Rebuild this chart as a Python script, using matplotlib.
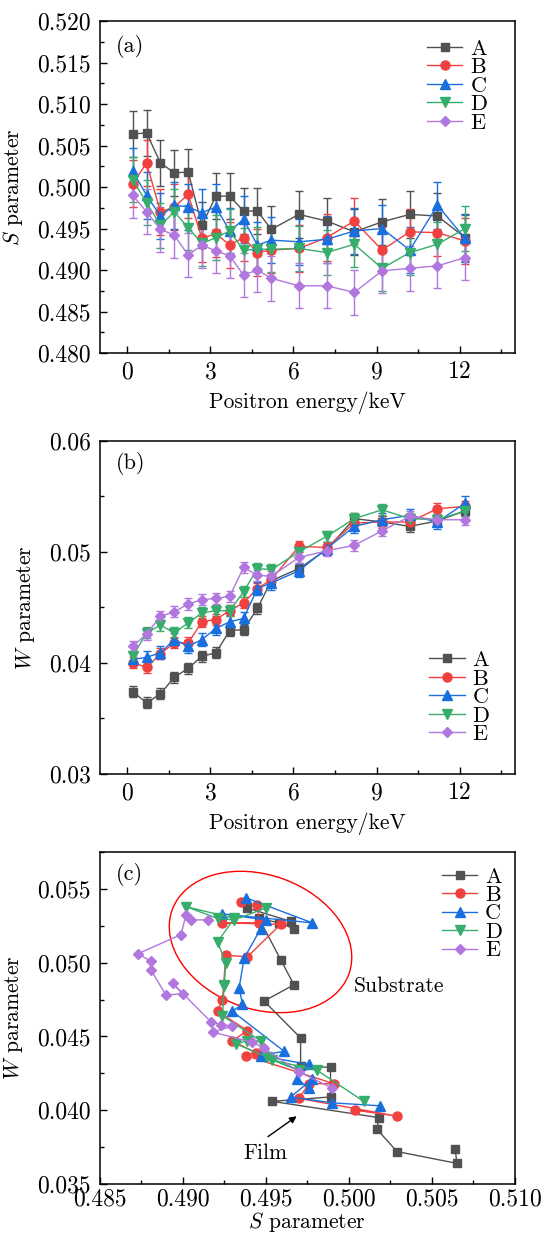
import matplotlib
matplotlib.use('Agg')
import matplotlib.pyplot as plt
from matplotlib.ticker import MultipleLocator, FormatStrFormatter
from matplotlib.patches import Ellipse
from matplotlib.transforms import Affine2D

plt.rcParams['font.family'] = 'serif'
plt.rcParams['font.serif'] = ['cmr10']
plt.rcParams['mathtext.fontset'] = 'cm'
plt.rcParams['axes.formatter.use_mathtext'] = True

# data
energy = [0.2, 0.7, 1.2, 1.7, 2.2, 2.7, 3.2, 3.7, 4.2, 4.7, 5.2, 6.2, 7.2, 8.2, 9.2, 10.2, 11.2, 12.2]
labels = ['A', 'B', 'C', 'D', 'E']

s_A = [0.5064, 0.5065, 0.5029, 0.5017, 0.5018, 0.4954, 0.4989, 0.4989, 0.4971, 0.4971, 0.4949, 0.4967, 0.4959, 0.4946, 0.4958, 0.4967, 0.4965, 0.4939]
s_B = [0.5004, 0.5029, 0.4970, 0.4976, 0.4991, 0.4938, 0.4944, 0.4930, 0.4939, 0.4921, 0.4924, 0.4926, 0.4939, 0.4959, 0.4924, 0.4946, 0.4945, 0.4935]
s_C = [0.5019, 0.4990, 0.4965, 0.4978, 0.4976, 0.4969, 0.4976, 0.4947, 0.4961, 0.4930, 0.4936, 0.4934, 0.4937, 0.4947, 0.4950, 0.4924, 0.4978, 0.4938]
s_D = [0.5009, 0.4981, 0.4954, 0.4970, 0.4951, 0.4932, 0.4939, 0.4947, 0.4924, 0.4925, 0.4925, 0.4926, 0.4921, 0.4931, 0.4902, 0.4921, 0.4931, 0.4950]
s_E = [0.4990, 0.4970, 0.4949, 0.4942, 0.4918, 0.4930, 0.4923, 0.4917, 0.4894, 0.4900, 0.4890, 0.4881, 0.4881, 0.4873, 0.4899, 0.4902, 0.4905, 0.4915]

w_A = [0.0374, 0.0364, 0.0372, 0.0387, 0.0395, 0.0406, 0.0409, 0.0429, 0.0430, 0.0449, 0.0474, 0.0485, 0.0502, 0.0530, 0.0527, 0.0523, 0.0528, 0.0537]
w_B = [0.0400, 0.0396, 0.0408, 0.0418, 0.0418, 0.0437, 0.0439, 0.0447, 0.0454, 0.0467, 0.0475, 0.0505, 0.0504, 0.0526, 0.0527, 0.0527, 0.0539, 0.0541]
w_C = [0.0403, 0.0405, 0.0409, 0.0421, 0.0415, 0.0421, 0.0431, 0.0437, 0.0440, 0.0467, 0.0472, 0.0483, 0.0503, 0.0523, 0.0529, 0.0533, 0.0527, 0.0544]
w_D = [0.0406, 0.0427, 0.0434, 0.0427, 0.0436, 0.0445, 0.0447, 0.0447, 0.0464, 0.0485, 0.0484, 0.0500, 0.0514, 0.0530, 0.0538, 0.0530, 0.0529, 0.0537]
w_E = [0.0415, 0.0426, 0.0442, 0.0446, 0.0453, 0.0457, 0.0458, 0.0460, 0.0486, 0.0479, 0.0478, 0.0495, 0.0501, 0.0506, 0.0519, 0.0532, 0.0529, 0.0529]

# error bar half-widths, one per sample
s_err = [0.0028, 0.0028, 0.0028, 0.0027, 0.0027]
w_err = [0.0005, 0.0005, 0.0006, 0.0005, 0.0005]

s_all = [s_A, s_B, s_C, s_D, s_E]
w_all = [w_A, w_B, w_C, w_D, w_E]

colors = ['#515151', '#F14040', '#1A6FDF', '#37AD6B', '#B177DE']
markers = ['s', 'o', '^', 'v', 'D']
msizes = [6, 6.5, 7, 7, 5.5]

TICK_FS = 17
LABEL_FS = 15.5
LEG_FS = 16


def style_axes(ax):
    ax.tick_params(which='both', direction='in', top=False, right=False,
                   labelsize=TICK_FS, pad=6)
    ax.tick_params(which='major', length=5, width=1)
    ax.tick_params(which='minor', length=3, width=1)
    for sp in ax.spines.values():
        sp.set_linewidth(1.1)


def add_legend(ax, handles, x, y):
    ax.legend(handles=handles, labels=labels, loc='upper left', bbox_to_anchor=(x, y),
              frameon=False, fontsize=LEG_FS, handlelength=1.6, handletextpad=0.35,
              labelspacing=-0.05, borderpad=0, borderaxespad=0, numpoints=1)


fig = plt.figure(figsize=(5.42, 12.36), dpi=100)
ax1 = fig.add_axes([0.1836, 0.7144, 0.7666, 0.2686])
ax2 = fig.add_axes([0.1836, 0.3740, 0.7666, 0.2692])
ax3 = fig.add_axes([0.1836, 0.04207, 0.7666, 0.2686])

# (a) S parameter vs energy
h1 = []
for s, e, c, m, ms in zip(s_all, s_err, colors, markers, msizes):
    cont = ax1.errorbar(energy, s, yerr=e, color=c, marker=m, markersize=ms, lw=1.0,
                        elinewidth=1.0, capsize=3, capthick=1.0)
    h1.append(cont[0])
ax1.set_xlim(-1, 14)
ax1.set_ylim(0.480, 0.520)
ax1.xaxis.set_major_locator(MultipleLocator(3))
ax1.xaxis.set_minor_locator(MultipleLocator(1.5))
ax1.yaxis.set_major_locator(MultipleLocator(0.005))
ax1.yaxis.set_minor_locator(MultipleLocator(0.0025))
ax1.yaxis.set_major_formatter(FormatStrFormatter('%.3f'))
ax1.set_xlabel('Positron energy/keV', fontsize=LABEL_FS, labelpad=6)
ax1.set_ylabel(r'$S$ parameter', fontsize=LABEL_FS, labelpad=9)
ax1.text(0.04, 0.922, '(a)', transform=ax1.transAxes, fontsize=LEG_FS, va='center')
style_axes(ax1)
add_legend(ax1, h1, 0.788, 0.945)

# (b) W parameter vs energy
h2 = []
for w, e, c, m, ms in zip(w_all, w_err, colors, markers, msizes):
    cont = ax2.errorbar(energy, w, yerr=e, color=c, marker=m, markersize=ms, lw=1.0,
                        elinewidth=1.0, capsize=3, capthick=1.0)
    h2.append(cont[0])
ax2.set_xlim(-1, 14)
ax2.set_ylim(0.03, 0.06)
ax2.xaxis.set_major_locator(MultipleLocator(3))
ax2.xaxis.set_minor_locator(MultipleLocator(1.5))
ax2.yaxis.set_major_locator(MultipleLocator(0.01))
ax2.yaxis.set_minor_locator(MultipleLocator(0.005))
ax2.yaxis.set_major_formatter(FormatStrFormatter('%.2f'))
ax2.set_xlabel('Positron energy/keV', fontsize=LABEL_FS, labelpad=6)
ax2.set_ylabel(r'$W$ parameter', fontsize=LABEL_FS, labelpad=9)
ax2.text(0.04, 0.933, '(b)', transform=ax2.transAxes, fontsize=LEG_FS, va='center')
style_axes(ax2)
add_legend(ax2, h2, 0.7936, 0.37)

# (c) W vs S
h3 = []
for s, w, c, m, ms in zip(s_all, w_all, colors, markers, msizes):
    line, = ax3.plot(s, w, color=c, marker=m, markersize=ms, lw=1.0)
    h3.append(line)
ax3.set_xlim(0.485, 0.510)
ax3.set_ylim(0.035, 0.0575)
ax3.xaxis.set_major_locator(MultipleLocator(0.005))
ax3.xaxis.set_minor_locator(MultipleLocator(0.0025))
ax3.yaxis.set_major_locator(MultipleLocator(0.005))
ax3.yaxis.set_minor_locator(MultipleLocator(0.0025))
ax3.xaxis.set_major_formatter(FormatStrFormatter('%.3f'))
ax3.yaxis.set_major_formatter(FormatStrFormatter('%.3f'))
ax3.set_xlabel(r'$S$ parameter', fontsize=LABEL_FS, labelpad=0)
ax3.set_ylabel(r'$W$ parameter', fontsize=LABEL_FS, labelpad=9)
ax3.text(0.04, 0.931, '(c)', transform=ax3.transAxes, fontsize=LEG_FS, va='center')
style_axes(ax3)
ax3.tick_params(axis='x', pad=3)
add_legend(ax3, h3, 0.824, 0.955)

# substrate ellipse, drawn in pixel units around an axes-fraction centre
axw = ax3.get_position().width * fig.get_figwidth() * fig.dpi
axh = ax3.get_position().height * fig.get_figheight() * fig.dpi
ell_tr = Affine2D().scale(1 / axw, 1 / axh) + ax3.transAxes
ax3.add_patch(Ellipse((0.3875 * axw, 0.729 * axh), 188, 134, angle=-20,
                      transform=ell_tr, fill=False, ec='#FF0000', lw=1.0))
ax3.text(0.5003, 0.0484, 'Substrate', fontsize=LABEL_FS, va='center', ha='left')

# film arrow
ax3.annotate('', xy=(0.4970, 0.0397), xytext=(0.4950, 0.0381),
             arrowprops=dict(arrowstyle='-|>', color='black', lw=1.0, mutation_scale=10))
ax3.text(0.4950, 0.0371, 'Film', fontsize=LABEL_FS, va='center', ha='center')

plt.savefig('out.png', dpi=100)
